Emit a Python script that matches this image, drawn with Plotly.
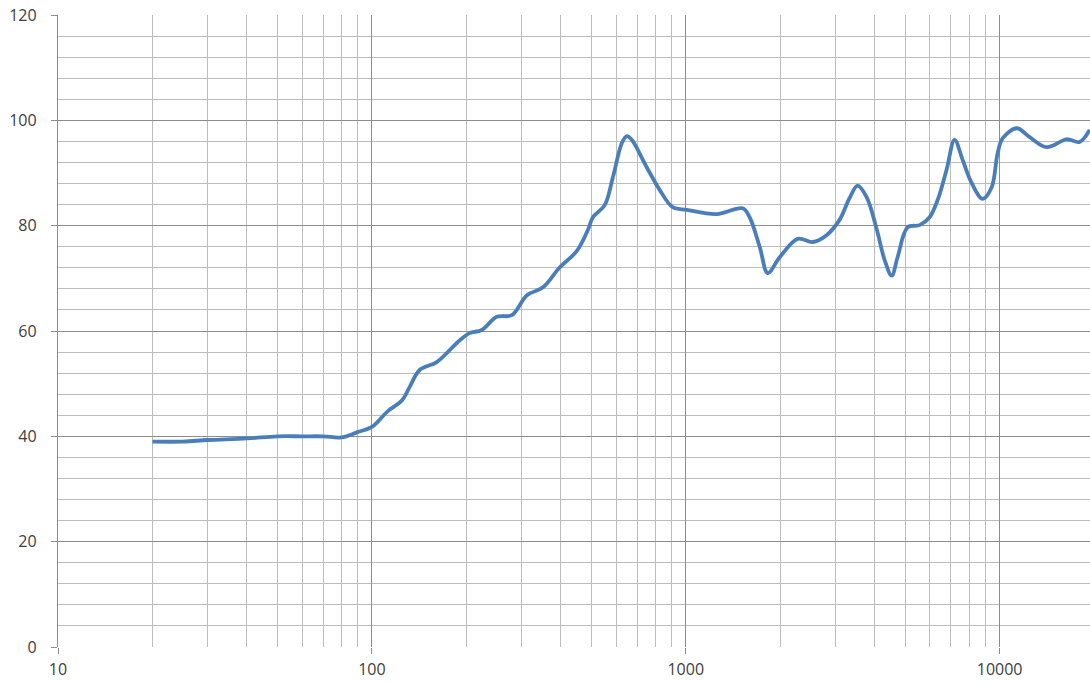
import plotly.graph_objects as go

freq_hz = [20, 25, 30, 40, 50, 60, 70, 80, 90, 100,
           112, 125, 132, 142, 161, 191, 205, 224, 250, 279,
           312, 351, 397, 450, 488, 506, 552, 586, 626, 649,
           673, 751, 826, 909, 1007, 1255, 1518, 1598, 1722, 1825,
           1992, 2274, 2537, 2810, 3091, 3324, 3528, 3770, 4055, 4301,
           4530, 4731, 5093, 5561, 5983, 6349, 6776, 7188, 7623, 8147,
           8830, 9433, 9860, 10233, 11330, 12470, 14130, 16340, 17980, 19360]

level_db = [39.0, 39.0, 39.3, 39.6, 40.0, 40.0, 40.0, 39.8, 40.8, 41.8,
            44.7, 46.9, 49.4, 52.6, 54.1, 58.3, 59.6, 60.2, 62.7, 63.0,
            66.8, 68.3, 72.1, 75.2, 79.2, 81.6, 83.9, 89.2, 95.7, 97.0,
            96.3, 91.1, 86.8, 83.5, 83.0, 82.2, 83.3, 81.6, 75.9, 71.0,
            74.0, 77.5, 76.9, 78.2, 81.1, 85.2, 87.6, 85.4, 79.4, 73.5,
            70.5, 74.0, 79.7, 80.1, 81.6, 84.9, 90.6, 96.3, 92.5, 88.1,
            85.1, 87.3, 93.8, 96.6, 98.5, 96.8, 94.9, 96.4, 95.9, 98.2]

x_tick_vals = [10, 100, 1000, 10000]
x_tick_text = ["10", "100", "1000", "10000"]
y_tick_vals = [0, 20, 40, 60, 80, 100, 120]

fig = go.Figure()
fig.add_trace(go.Scatter(
    x=freq_hz, y=level_db, mode="lines",
    line=dict(color="#4A7EBB", width=3.8, shape="spline", smoothing=1.0),
    showlegend=False, hoverinfo="x+y",
))

font = dict(family="Open Sans, Liberation Sans, sans-serif", size=16, color="#404040")

fig.update_layout(
    width=1090, height=684,
    margin=dict(l=58, r=0, t=15, b=37),
    paper_bgcolor="white", plot_bgcolor="white",
    font=font,
    xaxis=dict(
        type="log", range=[1, 4.288],
        tickvals=x_tick_vals, ticktext=x_tick_text,
        showgrid=True, gridcolor="#8c8c8c", gridwidth=1.3,
        ticks="outside", ticklen=6, tickcolor="#8c8c8c", tickwidth=1.3,
        showline=False, zeroline=False,
        minor=dict(dtick="D1", showgrid=True, gridcolor="#bdbdbd", gridwidth=1.3, ticks=""),
        tickfont=font, ticklabelstandoff=2,
    ),
    yaxis=dict(
        range=[0, 120], tickvals=y_tick_vals,
        showgrid=True, gridcolor="#8c8c8c", gridwidth=1.3,
        ticks="outside", ticklen=6, tickcolor="#8c8c8c", tickwidth=1.3,
        showline=True, linecolor="#8c8c8c", linewidth=1.3,
        zeroline=False,
        minor=dict(dtick=4, showgrid=True, gridcolor="#bdbdbd", gridwidth=1.3, ticks=""),
        tickfont=font, ticklabelstandoff=11,
    ),
)

fig.write_html(
    "out.html",
    config={"displayModeBar": False},
    post_script="document.body.style.margin='0';document.body.style.overflow='hidden';",
)
